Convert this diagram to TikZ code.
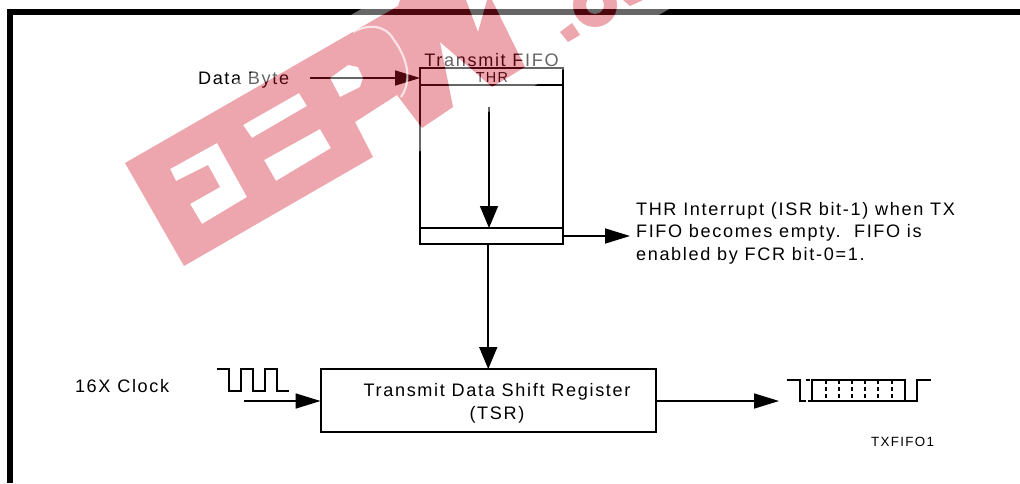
\documentclass[tikz,border=0pt]{standalone}
\usepackage{fontspec}
\usepackage{tikz}
\usetikzlibrary{arrows.meta}
\setmainfont{Liberation Sans}
\newfontfamily\lblfont[LetterSpace=9.3]{Liberation Sans}
\newfontfamily\tagfont[LetterSpace=10]{Liberation Sans}
\definecolor{wmred}{RGB}{210,21,42}
\tikzset{
  lbl/.style={inner sep=0pt,outer sep=0pt,font=\lblfont\fontsize{10.3}{13}\selectfont},
  cell/.style={draw,line width=1.1pt,inner sep=0pt,outer sep=0pt},
  wire/.style={line width=0.95pt},
  tipH/.style={wire,-{Triangle[length=0.5cm,width=0.3cm]}},
  tipV/.style={wire,-{Triangle[length=0.44cm,width=0.36cm]}},
}
\def\WMshape{(125,163) -- (398,6) -- (400,0) -- (466,0) -- (478,32) -- (487,0) -- (492,0) -- (525,67) -- (492,87) -- (440,42) -- (453,107) -- (422,128) -- (397,95) -- (355,122) -- (373,157) -- (184,266) -- cycle
  (170,169) -- (217,143) -- (247,197) -- (202,224) -- (190,204) -- (220,187) -- (208,165) -- (176,181) -- cycle
  (243,125) -- (299,93) -- (307,106) -- (252,138) -- cycle
  (264,160) -- (320,129) -- (331,148) -- (276,181) -- cycle
  (330,78) -- (348,65) -- (358,67) -- (363,78) -- (360,87) -- (340,97) -- cycle
  (560,32) -- (572,23) -- (580,35) -- (568,42) -- cycle
  (595,5) circle [radius=22] (595,5) circle [radius=9]
  (623,0) -- (643,0) -- (630,6) -- cycle}

\begin{document}
\begin{tikzpicture}[x=0.02cm,y=-0.02cm]
\useasboundingbox (0,0) rectangle (1020,483);
\draw[line width=0.12cm] (10,483) -- (10,12) -- (1020,12);

\node[cell,minimum width=2.86cm,minimum height=3.52cm] (fifo) at (491.5,156) {};
\node[cell,minimum width=2.86cm,minimum height=0.34cm] (thr) at (491.5,76.5) {};
\node[cell,minimum width=2.86cm,minimum height=0.32cm] (txcell) at (491.5,236) {};
\node[cell,minimum width=6.71cm,minimum height=1.26cm] (tsr) at (488.25,400.5) {};

\node[lbl,anchor=base] (fifotext) at (491.5,67) {Transmit FIFO};
\node[lbl,anchor=base,font=\lblfont\fontsize{8.2}{9}\selectfont] (thrtext) at (492,83) {THR};
\node[lbl,anchor=base west] (dbyte) at (198,85) {Data Byte};
\node[lbl,anchor=base west] (clk) at (75,392) {16X Clock};
\node[lbl,anchor=base,align=center] (tsrtext) at (497,419) {Transmit Data Shift Register\\(TSR)};
\node[lbl,anchor=north west,align=left] (irq) at (636,202) {THR Interrupt (ISR bit-1) when TX\\FIFO becomes empty.\ \ FIFO is\\enabled by FCR bit-0=1.};
\node[lbl,anchor=base east,font=\tagfont\fontsize{7.6}{9}\selectfont] (txtag) at (934,446) {TXFIFO1};

\coordinate (dstart) at (310,78);
\coordinate (thrdrop) at (489,107);
\coordinate (irqend) at (630,236);
\coordinate (clkstart) at (244,401);
\coordinate (outend) at (779,401);

\draw[tipH] (dstart) -- (dstart -| thr.west);
\draw[tipV] (thrdrop) -- (thrdrop |- txcell.north);
\draw[tipH] (txcell.east) -- (irqend);
\draw[tipV] (tsr.north |- txcell.south) -- (tsr.north);
\draw[tipH] (clkstart) -- (clkstart -| tsr.west);
\draw[tipH] (outend -| tsr.east) -- (outend);

% clock and serial data
\draw[wire] (216.7,369) -- ++(12,0) -- ++(0,21.7) -- ++(12,0) -- ++(0,-21.7) -- ++(12,0) -- ++(0,21.7) -- ++(12,0) -- ++(0,-21.7) -- ++(12,0) -- ++(0,21.7) -- ++(12.3,0);
\draw[wire] (786.7,380) -- ++(13.3,0) -- ++(0,21.3) -- ++(5.7,0);
\draw[wire] (805.7,380) -- ++(4.3,0);
\draw[wire] (808,401.3) -- ++(4.3,0);
\draw[wire] (812.3,380) rectangle (904.7,401.3);
\draw[wire] (904.7,401.3) -- ++(12.6,0) -- ++(0,-21.3) -- ++(13.7,0);
\foreach \x in {826,839,852.3,865.3,878.3,891.7}
  \draw[wire,dash pattern=on 2.3pt off 1.7pt] (\x,380) -- (\x,401.3);

% watermark
\begin{scope}
\clip (0,0) rectangle (1020,483);
\fill[white,fill opacity=0.4,even odd rule] (377,0) -- (105,157) -- (185,285) -- (685,0) -- cycle \WMshape;
\fill[wmred,fill opacity=0.38,even odd rule] \WMshape;
\draw[white,line width=1.2pt,opacity=0.7] (353,32) .. controls (368,24) and (385,24) .. (394,40) .. controls (405,55) and (414,78) .. (401,97);
\end{scope}
\end{tikzpicture}
\end{document}
